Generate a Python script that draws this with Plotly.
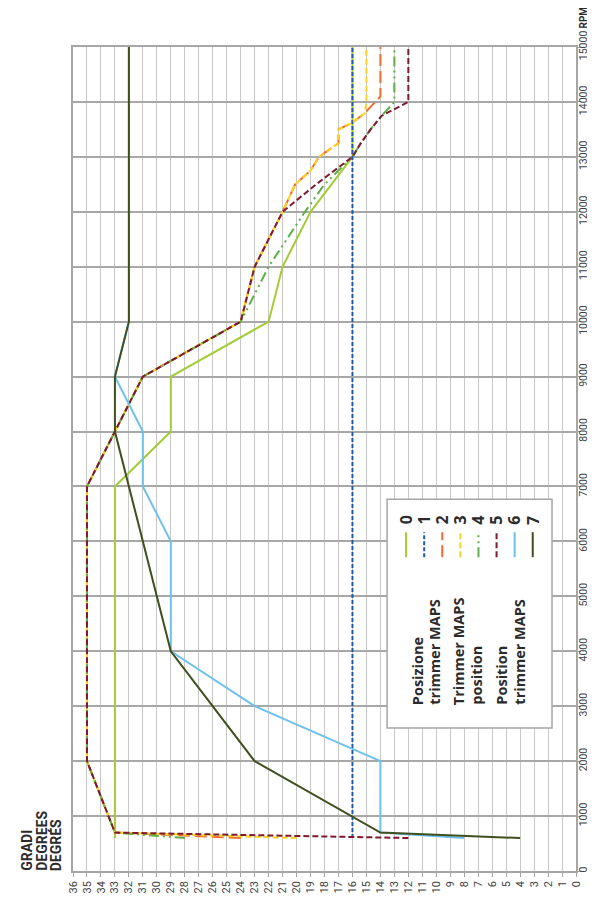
import plotly.graph_objects as go

# ---------------- data (RPM, degrees) ----------------
names = ["0", "1", "2", "3", "4", "5", "6", "7"]

rpm_0 = [600, 700, 7000, 8000, 9000, 10000, 11000, 12000, 13000, 15000]
deg_0 = [33, 33, 33, 29, 29, 22, 21, 19, 16, 16]

rpm_1 = [600, 15000]
deg_1 = [16, 16]

rpm_2 = [600, 700, 2000, 7000, 8000, 9000, 10000, 11000, 12000, 12500, 12750, 13000,
         13250, 13500, 13625, 13800, 14100, 15000]
deg_2 = [24, 33, 35, 35, 33, 31, 24, 23, 21, 20.1, 19, 18.4, 17, 17, 16, 15.1, 14, 14]

rpm_3 = [600, 700, 2000, 7000, 8000, 9000, 10000, 11000, 12000, 12500, 12750, 13000,
         13250, 13500, 13625, 13800, 14000, 15000]
deg_3 = [20, 33, 35, 35, 33, 31, 24, 23, 21, 20.1, 19, 18.4, 17, 17, 16, 15.1, 15, 15]

rpm_4 = [600, 700, 2000, 7000, 8000, 9000, 10000, 11000, 12000, 12500, 13000, 13250,
         13500, 13750, 14000, 15000]
deg_4 = [28, 33, 35, 35, 33, 31, 24, 22, 19.4, 18, 16, 15.4, 14.7, 13.9, 13, 13]

rpm_5 = [600, 700, 2000, 7000, 8000, 9000, 10000, 11000, 12000, 12500, 13000, 13250,
         13500, 13750, 14000, 15000]
deg_5 = [12, 33, 35, 35, 33, 31, 24, 23, 21, 18.6, 16, 15.4, 14.7, 13.9, 12, 12]

rpm_6 = [600, 700, 2000, 3000, 4000, 6000, 7000, 8000, 9000, 10000, 15000]
deg_6 = [8, 14, 14, 23, 29, 29, 31, 31, 33, 32, 32]

rpm_7 = [600, 700, 2000, 4000, 8000, 9000, 10000, 15000]
deg_7 = [4, 14, 23, 29, 33, 33, 32, 32]

rpm_ticks = list(range(0, 15001, 1000))
deg_ticks = list(range(0, 37))

legend_text = ["Posizione", "trimmer MAPS", "Trimmer MAPS", "position",
               "Position", "trimmer MAPS"]

# ---------------- styles ----------------
colors = ["#A3CB38", "#1F5BA8", "#F26A2E", "#FFD21F", "#5DAE47", "#7D1A2F",
          "#6EC1EC", "#404F1E"]
dashes = ["solid", "4px,2px", "12px,5px", "6px,3px", "10px,4px,2px,4px,2px,4px",
          "6px,3px", "solid", "solid"]

series = [(rpm_0, deg_0), (rpm_1, deg_1), (rpm_2, deg_2), (rpm_3, deg_3),
          (rpm_4, deg_4), (rpm_5, deg_5), (rpm_6, deg_6), (rpm_7, deg_7)]

OFF = 8  # page body margin
W, H = 595 - OFF, 899 - OFF
L, R, T, B = 72.7, 576, 46.5, 871  # target page pixel positions of plot area


def px(x):
    return (x - L) / (R - L)


def py(y):
    return (B - y) / (B - T)


fig = go.Figure()
for i, (r, d) in enumerate(series):
    fig.add_trace(go.Scatter(x=d, y=r, mode="lines", name=names[i],
                             line=dict(color=colors[i], width=2, dash=dashes[i]),
                             showlegend=False, hoverinfo="skip"))

tickfont = dict(family="Liberation Sans Narrow, Roboto, sans-serif", size=11,
                color="#404040")
ytickfont = dict(family="Liberation Sans Narrow, Roboto, sans-serif", size=10.5,
                 color="#404040")

fig.update_xaxes(range=[36, 0], tickvals=deg_ticks, ticktext=[str(v) for v in deg_ticks],
                 tickangle=-90, showgrid=True, gridcolor="#C8C8C8", gridwidth=1,
                 showline=True, linecolor="#A6A6A6", linewidth=1.5, mirror=True,
                 ticks="outside", ticklen=4, tickcolor="#A6A6A6", tickfont=tickfont,
                 zeroline=False, automargin=False)
fig.update_yaxes(range=[0, 15000], tickvals=rpm_ticks, ticktext=[str(v) for v in rpm_ticks],
                 side="right", tickangle=-90, showgrid=True, gridcolor="#A8A8A8",
                 gridwidth=1.5, showline=True, linecolor="#A6A6A6", linewidth=1.5,
                 mirror=True, ticks="outside", ticklen=3, tickcolor="#A6A6A6",
                 tickfont=ytickfont, zeroline=False, automargin=False,
                 ticklabelstandoff=-6)

shapes = []
annotations = []

# legend box
shapes.append(dict(type="rect", xref="paper", yref="paper",
                   x0=px(387), x1=px(552), y0=py(728), y1=py(499),
                   line=dict(color="#A6A6A6", width=1.5), fillcolor="white", layer="above"))

for i in range(8):
    xc = 406 + 18.1 * i
    shapes.append(dict(type="line", xref="paper", yref="paper",
                       x0=px(xc), x1=px(xc), y0=py(557), y1=py(532),
                       line=dict(color=colors[i], width=2, dash=dashes[i]), layer="above"))
    annotations.append(dict(text="<b>%s</b>" % names[i], xref="paper", yref="paper",
                            x=px(xc), y=py(520), textangle=-90, showarrow=False,
                            xanchor="center", yanchor="middle",
                            font=dict(family="Open Sans, sans-serif", size=16, color="#2b2b2b")))

legend_x = [417, 435, 458, 477, 502, 520]
for t, xc in zip(legend_text, legend_x):
    annotations.append(dict(text="<b>%s</b>" % t, xref="paper", yref="paper",
                            x=px(xc), y=py(707), textangle=-90, showarrow=False,
                            xanchor="center", yanchor="bottom",
                            font=dict(family="Open Sans, sans-serif", size=14.5, color="#2b2b2b")))

# axis titles
for t, xc in zip(["GRADI", "DEGREES", "DEGRÉS"], [27, 41.5, 56]):
    annotations.append(dict(text="<b>%s</b>" % t, xref="paper", yref="paper",
                            x=px(xc), y=py(873), textangle=-90, showarrow=False,
                            xanchor="center", yanchor="bottom",
                            font=dict(family="Liberation Sans Narrow, Roboto, sans-serif",
                                      size=14, color="#2b2b2b")))

annotations.append(dict(text="<b>RPM</b>", xref="paper", yref="paper",
                        x=px(584), y=py(30), textangle=-90, showarrow=False,
                        xanchor="center", yanchor="bottom",
                        font=dict(family="Liberation Sans Narrow, Roboto, sans-serif",
                                  size=10, color="#2b2b2b")))

fig.update_layout(width=W, height=H, paper_bgcolor="white", plot_bgcolor="white",
                  margin=dict(l=L - OFF, r=(W + OFF) - R, t=T - OFF, b=(H + OFF) - B, pad=0),
                  shapes=shapes, annotations=annotations)

fig.write_html("out.html")
